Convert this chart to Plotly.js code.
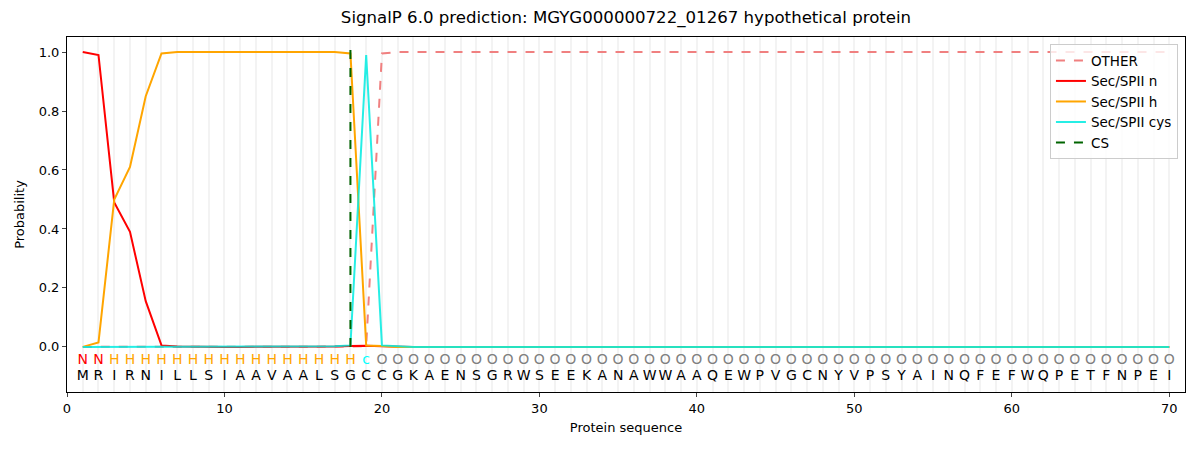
<!DOCTYPE html>
<html>
<head>
<meta charset="utf-8">
<script src="https://cdn.plot.ly/plotly-3.0.1.min.js"></script>
<style>html,body{margin:0;padding:0;background:#fff;}#chart{width:1200px;height:450px;}</style>
</head>
<body>
<div id="chart"></div>
<script>
const sequence = ["M","R","I","R","N","I","L","L","S","I","A","A","V","A","A","L","S","G","C","C","G","K","A","E","N","S","G","R","W","S","E","E","K","A","N","A","W","W","A","A","Q","E","W","P","V","G","C","N","Y","V","P","S","Y","A","I","N","Q","F","E","F","W","Q","P","E","T","F","N","P","E","I"];
const regionLabels = ["N","N","H","H","H","H","H","H","H","H","H","H","H","H","H","H","H","H","c","O","O","O","O","O","O","O","O","O","O","O","O","O","O","O","O","O","O","O","O","O","O","O","O","O","O","O","O","O","O","O","O","O","O","O","O","O","O","O","O","O","O","O","O","O","O","O","O","O","O","O"];
const positions = sequence.map((_, i) => i + 1);

const otherProb = [0,0,0,0,0,0,0,0,0,0,0,0,0,0,0,0,0,0.001,0.003,0.995,1,1,1,1,1,1,1,1,1,1,1,1,1,1,1,1,1,1,1,1,1,1,1,1,1,1,1,1,1,1,1,1,1,1,1,1,1,1,1,1,1,1,1,1,1,1,1,1,1,1];
const nProb = [1.0,0.99,0.49,0.39,0.155,0.005,0.001,0,0,0,0,0,0,0,0,0,0.001,0.003,0.004,0.002,0,0,0,0,0,0,0,0,0,0,0,0,0,0,0,0,0,0,0,0,0,0,0,0,0,0,0,0,0,0,0,0,0,0,0,0,0,0,0,0,0,0,0,0,0,0,0,0,0,0];
const hProb = [0,0.015,0.5,0.61,0.85,0.995,1.0,1.0,1.0,1.0,1.0,1.0,1.0,1.0,1.0,1.0,1.0,0.995,0.005,0.003,0,0,0,0,0,0,0,0,0,0,0,0,0,0,0,0,0,0,0,0,0,0,0,0,0,0,0,0,0,0,0,0,0,0,0,0,0,0,0,0,0,0,0,0,0,0,0,0,0,0];
const cysProb = [0,0,0,0,0,0,0,0,0,0,0,0,0,0,0,0,0.002,0.005,0.99,0.005,0.002,0,0,0,0,0,0,0,0,0,0,0,0,0,0,0,0,0,0,0,0,0,0,0,0,0,0,0,0,0,0,0,0,0,0,0,0,0,0,0,0,0,0,0,0,0,0,0,0,0];
const csPosition = 18;
const csSpan = [0, 1.035];

const labelColors = {N: "red", H: "orange", c: "cyan", O: "gray"};
const font = "DejaVu Sans, sans-serif";

const traces = [
  {x: positions, y: otherProb, name: "OTHER", mode: "lines", line: {color: "lightcoral", width: 2, dash: "dash"}},
  {x: positions, y: nProb, name: "Sec/SPII n", mode: "lines", line: {color: "red", width: 2}},
  {x: positions, y: hProb, name: "Sec/SPII h", mode: "lines", line: {color: "orange", width: 2}},
  {x: positions, y: cysProb, name: "Sec/SPII cys", mode: "lines", line: {color: "rgba(0,235,225,0.85)", width: 2}},
  {x: [csPosition, csPosition], y: csSpan, name: "CS", mode: "lines", line: {color: "darkgreen", width: 2, dash: "dash"}},
  {x: positions, y: positions.map(() => -0.047), text: regionLabels, mode: "text", showlegend: false, hoverinfo: "skip",
   textfont: {family: font, size: 14, color: regionLabels.map(l => labelColors[l])}},
  {x: positions, y: positions.map(() => -0.1), text: sequence, mode: "text", showlegend: false, hoverinfo: "skip",
   textfont: {family: font, size: 14, color: "black"}},
  {x: positions, y: positions.map(() => null), mode: "lines", showlegend: false, hoverinfo: "skip", xaxis: "x2", yaxis: "y"}
];

const layout = {
  width: 1200, height: 450,
  margin: {l: 67, r: 15, t: 37, b: 58},
  paper_bgcolor: "#fff", plot_bgcolor: "#fff",
  font: {family: font, size: 13, color: "black"},
  title: {text: "SignalP 6.0 prediction: MGYG000000722_01267 hypothetical protein", font: {family: font, size: 16.6}, x: 0.5, xref: "paper", y: 0.962, yanchor: "middle"},
  xaxis: {range: [0, 71], tickvals: [0,10,20,30,40,50,60,70], showgrid: false, zeroline: false, ticks: "outside", ticklen: 4,
          showline: true, linecolor: "black", mirror: true, title: {text: "Protein sequence", font: {size: 13}, standoff: 8}},
  xaxis2: {range: [0, 71], overlaying: "x", dtick: 1, tick0: 0, showgrid: true, gridcolor: "rgba(215,215,215,0.3)", gridwidth: 2,
           showticklabels: false, ticks: "", zeroline: false, layer: "below traces"},
  yaxis: {range: [-0.153, 1.051], tickvals: [0,0.2,0.4,0.6,0.8,1.0], ticktext: ["0.0","0.2","0.4","0.6","0.8","1.0"], showgrid: false,
          zeroline: false, ticks: "outside", ticklen: 4, showline: true, linecolor: "black", mirror: true,
          title: {text: "Probability", font: {size: 13}, standoff: 11}},
  legend: {x: 0.9937, y: 0.98, xanchor: "right", yanchor: "top", bgcolor: "rgba(255,255,255,0.8)", bordercolor: "#ccc", borderwidth: 1,
           font: {size: 13.5}, tracegroupgap: 2},
  showlegend: true
};

Plotly.newPlot("chart", traces, layout, {staticPlot: true});
</script>
</body>
</html>
